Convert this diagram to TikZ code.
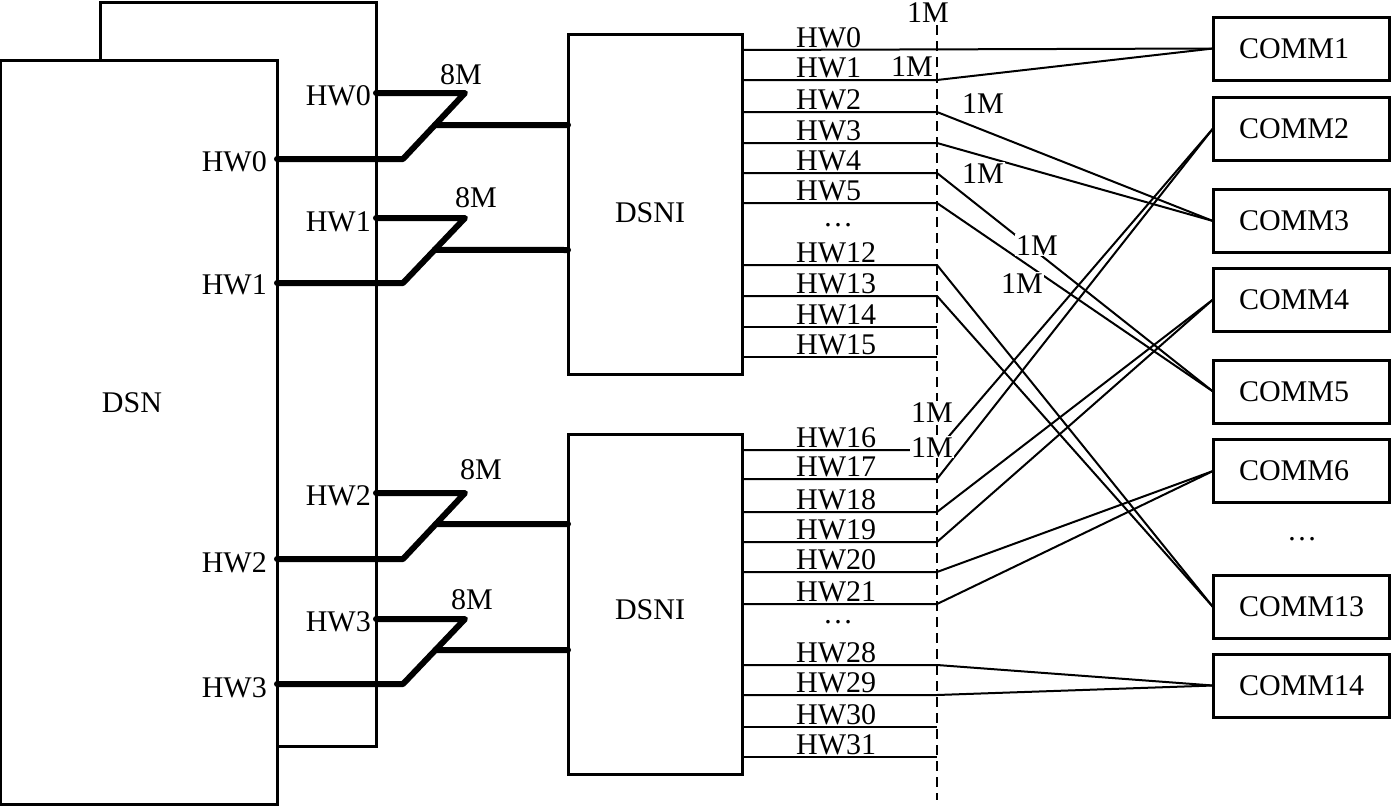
\documentclass[tikz,border=0pt]{standalone}
\usepackage{fontspec}
\setmainfont{Liberation Serif}
\usetikzlibrary{calc}
\begin{document}
\begin{tikzpicture}[x=1pt,y=-1pt,font=\fontsize{30}{36}\selectfont]
\tikzset{
 frame/.style={draw, line width=3pt, outer sep=0pt, inner sep=0pt},
 commbox/.style={draw, line width=3pt, outer sep=0pt, minimum height=63pt, text width=124pt, inner xsep=26pt, inner ysep=0pt, align=left},
 wire/.style={line width=2pt},
 bus/.style={line width=6pt, line join=round, line cap=round},
 lbl/.style={inner sep=1pt},
 dotlbl/.style={inner sep=0pt, anchor=base},
 mlbl/.style={fill=white, inner sep=1pt},
 dashline/.style={line width=2pt, dash pattern=on 10pt off 6pt},
}
\newcommand{\commtext}[1]{\raisebox{-2pt}{#1}}
\useasboundingbox (0,0) rectangle (1391,806);
% DSN frames
\node[frame, minimum width=276pt, minimum height=744pt, anchor=north west] (dsnback) at (100,2) {};
\node[frame, fill=white, minimum width=277pt, minimum height=744pt, anchor=north west] (dsn) at (0,60) {};
\node[lbl] (dsnlabel) at (132,403) {DSN};
% DSNI boxes
\node[frame, minimum width=174pt, minimum height=340pt] (dsniA) at (655,204) {};
\node[lbl] (dsniAl) at (650,213) {DSNI};
\node[frame, minimum width=174pt, minimum height=340pt] (dsniB) at (655,604) {};
\node[lbl] (dsniBl) at (650,610) {DSNI};
% thick buses
\foreach \n/\t/\b/\m/\f in {0/93/159/125/0.485, 1/218/283/250/0.49, 2/493/559/524/0.47, 3/619/684/650/0.477}{
  \coordinate (bt\n) at (376,\t);
  \coordinate (bc\n) at (465,\t);
  \coordinate (bb\n) at (403,\b);
  \coordinate (bl\n) at (277,\b);
  \coordinate (bm\n) at ($(bc\n)!\f!(bb\n)$);
  \coordinate (be\n) at (568,\m);
  \draw[bus] (bt\n) -- (bc\n) -- (bb\n) -- (bl\n);
  \draw[bus] (bm\n) -- (be\n);
}
% DSN labels
\node[lbl, anchor=east] (u0) at (372,96) {HW0};
\node[lbl, anchor=east] (l0) at (268,162) {HW0};
\node[lbl, anchor=east] (u1) at (372,222) {HW1};
\node[lbl, anchor=east] (l1) at (268,285) {HW1};
\node[lbl, anchor=east] (u2) at (372,496) {HW2};
\node[lbl, anchor=east] (l2) at (268,563) {HW2};
\node[lbl, anchor=east] (u3) at (372,622) {HW3};
\node[lbl, anchor=east] (l3) at (268,688) {HW3};
\node[lbl] (e0) at (461,75) {8M};
\node[lbl] (e1) at (476,198) {8M};
\node[lbl] (e2) at (481,470) {8M};
\node[lbl] (e3) at (472,600) {8M};
% COMM boxes
\node[commbox] (c1) at (1301,48.5) {\commtext{COMM1}};
\node[commbox] (c2) at (1301,128.5) {\commtext{COMM2}};
\node[commbox] (c3) at (1301,221) {\commtext{COMM3}};
\node[commbox] (c4) at (1301,299.5) {\commtext{COMM4}};
\node[commbox] (c5) at (1301,391.5) {\commtext{COMM5}};
\node[commbox] (c6) at (1301,471) {\commtext{COMM6}};
\node[dotlbl] (cdots) at (1302,540) {\dots};
\node[commbox] (c13) at (1301,607) {\commtext{COMM13}};
\node[commbox] (c14) at (1301,685.5) {\commtext{COMM14}};
% dashed line
\coordinate (dtop) at (937,25);
\coordinate (dbot) at (937,800);
\draw[dashline] (dtop) -- (dbot);
% HW wires
\foreach \n/\y in {0/50,1/80,2/112,3/143,4/173,5/203,12/265,13/296,14/327,15/357,16/450,17/479,18/512,19/542,20/572,21/604,28/665,29/695,30/727,31/757}{
  \coordinate (a\n) at (742,\y);
  \coordinate (d\n) at (937,\y);
  \node[anchor=base west, lbl] (t\n) at (795,\y-3) {HW\n};
}
\node[dotlbl] (tdA) at (838,226) {\dots};
\node[dotlbl] (tdB) at (838,623) {\dots};
\foreach \n in {14,15,30,31} \draw[wire] (a\n) -- (d\n);
\draw[wire] (a0) -- (c1.west);
\foreach \n/\c in {1/c1,2/c3,3/c3,4/c5,5/c5,12/c13,13/c13,16/c2,17/c2,18/c4,19/c4,20/c6,21/c6,28/c14,29/c14}
  \draw[wire] (a\n) -- (d\n) -- (\c.west);
% 1M labels
\node[mlbl, anchor=base] (m0) at (928,22) {1M};
\node[mlbl, anchor=base] (m1) at (912,76) {1M};
\node[mlbl, anchor=base] (m2) at (983,113) {1M};
\node[mlbl, anchor=base] (m3) at (983,183) {1M};
\node[mlbl, anchor=base] (m4) at (1037,255) {1M};
\node[mlbl, anchor=base] (m5) at (1022,293) {1M};
\node[mlbl, anchor=base] (m6) at (932,422) {1M};
\node[mlbl, anchor=base] (m7) at (932,457) {1M};
\end{tikzpicture}
\end{document}
